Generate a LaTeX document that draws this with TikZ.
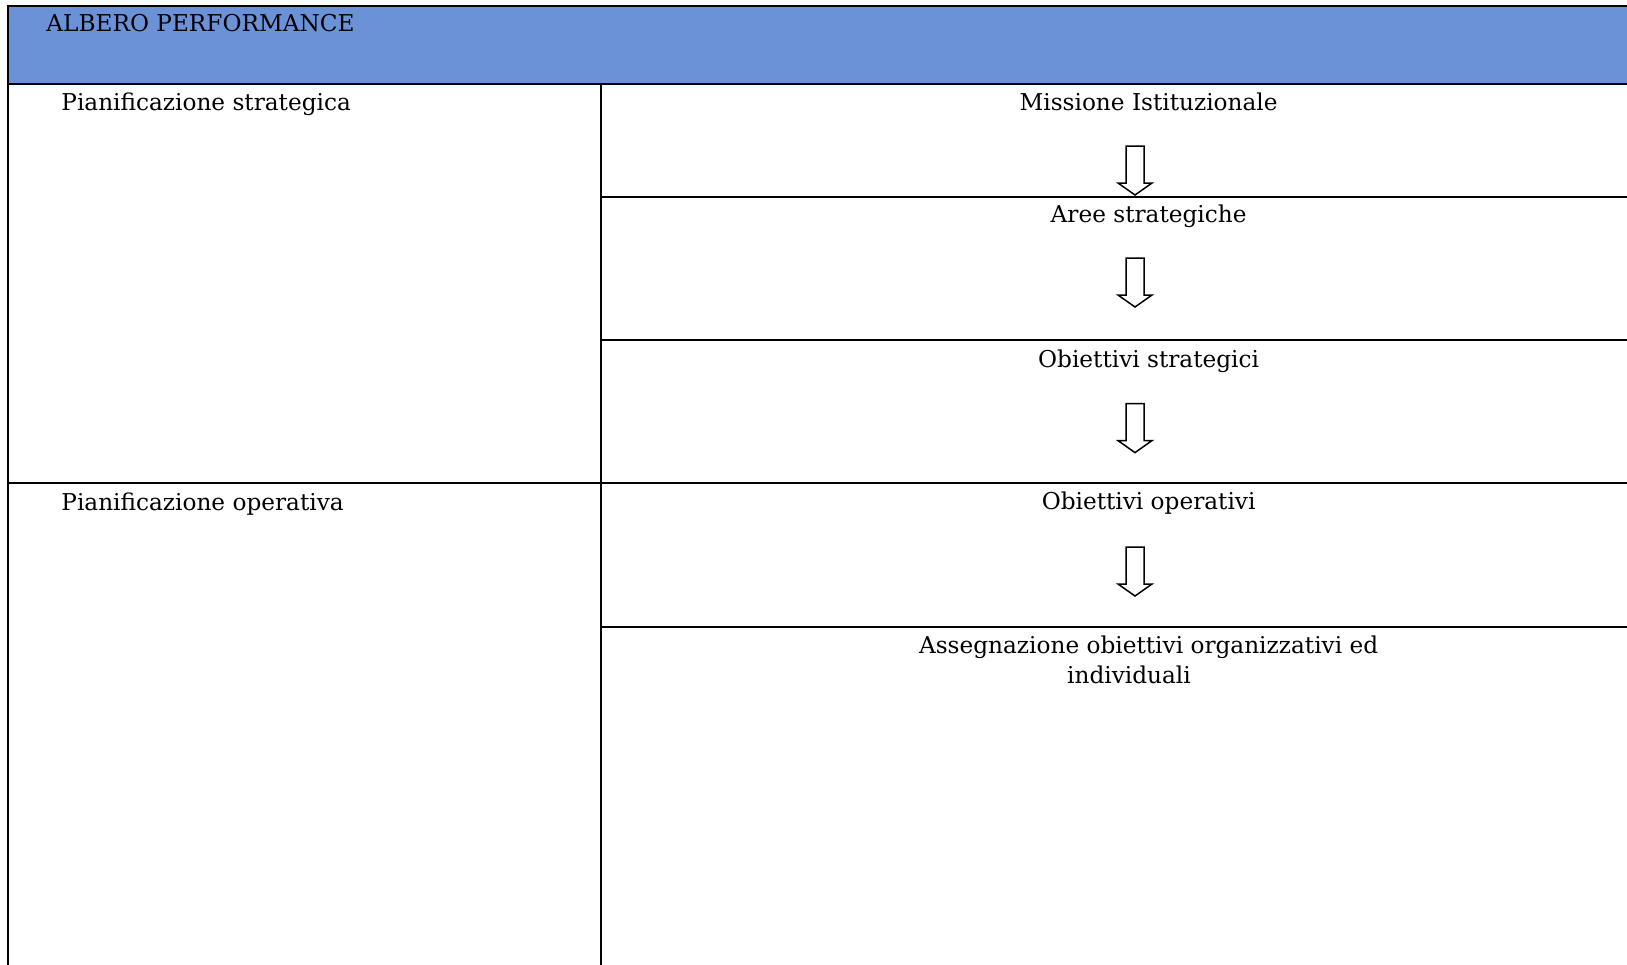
\documentclass[tikz,border=0pt]{standalone}
\usepackage{fontspec}
\setmainfont{DejaVu Serif}
\definecolor{headblue}{RGB}{107,145,215}
\tikzset{
  rule/.style={line width=1pt, black},
  lbl/.style={inner sep=0pt, font=\fontsize{11.6}{15.25}\selectfont},
  downarrow/.pic={\draw[line width=0.75pt, fill=white, line join=miter]
     (-9,0) -- (9,0) -- (9,37) -- (17,37) -- (0,49) -- (-17,37) -- (-9,37) -- cycle;}
}
\begin{document}
\begin{tikzpicture}[x=0.5pt,y=-0.5pt]
\useasboundingbox (0,0) rectangle (1627,964);
\begin{scope}
\clip (0,0) rectangle (1627,964);
% header
\fill[headblue] (7.5,6) rectangle (1640,84);
\draw[rule] (7.5,970) -- (7.5,6) -- (1640,6);
\draw[rule] (7.5,84) -- (1640,84);
% column divider
\draw[rule] (601,84) -- (601,970);
% row rules
\draw[rule] (601,197) -- (1640,197);
\draw[rule] (601,340) -- (1640,340);
\draw[rule] (7.5,482.5) -- (1640,482.5);
\draw[rule] (601,626.5) -- (1640,626.5);
\end{scope}
% texts
\node[lbl, anchor=base west] (title) at (46,31.7) {ALBERO PERFORMANCE};
\node[lbl, anchor=base west] (pstrat) at (61,110) {Pianificazione strategica};
\node[lbl, anchor=base west] (poper) at (61,510.3) {Pianificazione operativa};
\node[lbl, anchor=base] (miss) at (1148.6,110) {Missione Istituzionale};
\node[lbl, anchor=base] (aree) at (1148.6,222) {Aree strategiche};
\node[lbl, anchor=base] (obstr) at (1148.6,367.3) {Obiettivi strategici};
\node[lbl, anchor=base] (obop) at (1148.6,509.3) {Obiettivi operativi};
\node[lbl, anchor=base] (ass1) at (1148.6,653.3) {Assegnazione obiettivi organizzativi ed};
\node[lbl, anchor=base] (ass2) at (1129,683.8) {individuali};
% arrows
\pic at (1135,146) {downarrow};
\pic at (1135,258) {downarrow};
\pic at (1135,403.6) {downarrow};
\pic at (1135,547) {downarrow};
\end{tikzpicture}
\end{document}
